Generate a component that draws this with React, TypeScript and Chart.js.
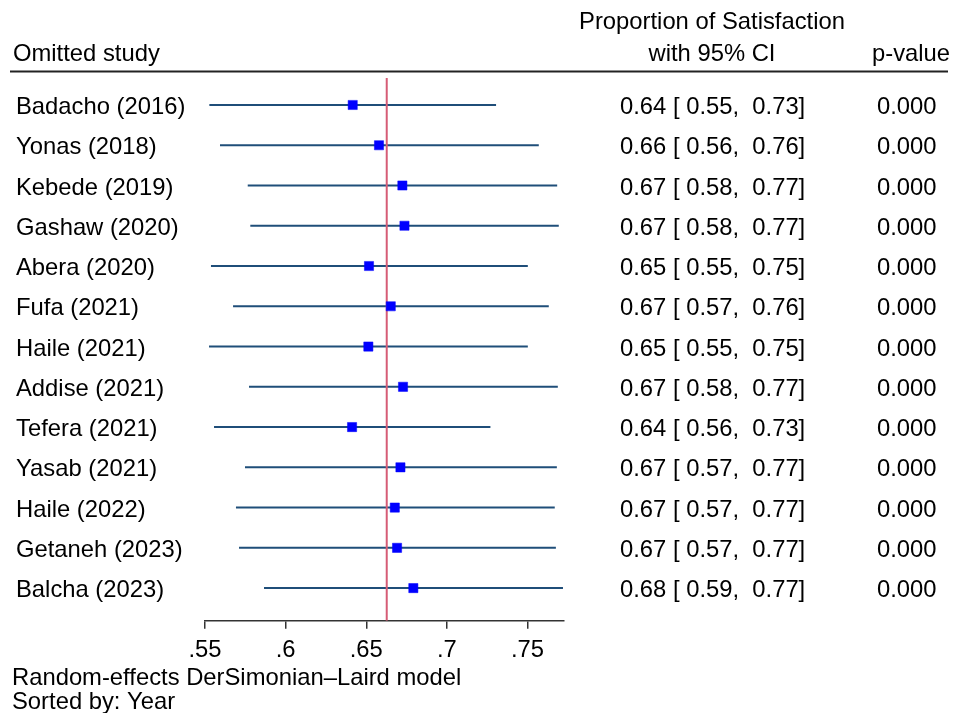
import React, { useEffect, useRef } from "react";
import { Chart, registerables } from "chart.js";

Chart.register(...registerables);

const studies = [
  "Badacho (2016)",
  "Yonas (2018)",
  "Kebede (2019)",
  "Gashaw (2020)",
  "Abera (2020)",
  "Fufa (2021)",
  "Haile (2021)",
  "Addise (2021)",
  "Tefera (2021)",
  "Yasab (2021)",
  "Haile (2022)",
  "Getaneh (2023)",
  "Balcha (2023)",
];
const estimates = [0.6416, 0.6579, 0.6724, 0.6737, 0.6517, 0.6652, 0.6513, 0.6728, 0.6412, 0.6712, 0.6677, 0.6691, 0.6792];
const lowerCI = [0.5527, 0.5593, 0.5765, 0.5781, 0.5537, 0.5674, 0.5525, 0.5773, 0.5556, 0.5748, 0.5692, 0.5711, 0.5866];
const upperCI = [0.7305, 0.757, 0.7684, 0.7694, 0.7502, 0.7632, 0.7502, 0.7688, 0.727, 0.7682, 0.7669, 0.7676, 0.772];
const ciLabels = [
  "0.64 [ 0.55,  0.73]",
  "0.66 [ 0.56,  0.76]",
  "0.67 [ 0.58,  0.77]",
  "0.67 [ 0.58,  0.77]",
  "0.65 [ 0.55,  0.75]",
  "0.67 [ 0.57,  0.76]",
  "0.65 [ 0.55,  0.75]",
  "0.67 [ 0.58,  0.77]",
  "0.64 [ 0.56,  0.73]",
  "0.67 [ 0.57,  0.77]",
  "0.67 [ 0.57,  0.77]",
  "0.67 [ 0.57,  0.77]",
  "0.68 [ 0.59,  0.77]",
];
const pValues = ["0.000", "0.000", "0.000", "0.000", "0.000", "0.000", "0.000", "0.000", "0.000", "0.000", "0.000", "0.000", "0.000"];
const overallEstimate = 0.6627;
const xTickValues = [0.55, 0.6, 0.65, 0.7, 0.75];
const xTickLabels = [".55", ".6", ".65", ".7", ".75"];
const headerLines = ["Proportion of Satisfaction", "with 95% CI"];
const footerLines = ["Random-effects DerSimonian\u2013Laird model", "Sorted by: Year"];

const FONT = '"Liberation Sans", Arial, sans-serif';
const FS = 23.8;
const TEXT_DY = 2.5;

export default function App() {
  const ref = useRef<HTMLCanvasElement | null>(null);

  useEffect(() => {
    if (!ref.current) return;
    const yMin = -0.67;
    const yMax = 12.81;

    const ciDatasets = studies.map((s, i) => ({
      type: "scatter" as const,
      label: s + " CI",
      data: [
        { x: lowerCI[i], y: i },
        { x: upperCI[i], y: i },
      ],
      showLine: true,
      borderColor: "#1f4e79",
      borderWidth: 2,
      pointRadius: 0,
      order: 3,
    }));

    const textPlugin = {
      id: "forestText",
      afterDraw(chart: any) {
        const ctx = chart.ctx as CanvasRenderingContext2D;
        const ys = chart.scales.y;
        ctx.save();
        ctx.fillStyle = "#000";
        ctx.font = `${FS}px ${FONT}`;
        ctx.textBaseline = "middle";
        // headers
        ctx.textAlign = "left";
        ctx.fillText("Omitted study", 13, 54.5);
        ctx.fillText("p-value", 872, 54.5);
        ctx.textAlign = "center";
        ctx.fillText(headerLines[0], 712, 22);
        ctx.fillText(headerLines[1], 712, 54.5);
        // rule
        ctx.strokeStyle = "#222";
        ctx.lineWidth = 2;
        ctx.beginPath();
        ctx.moveTo(10, 71.5);
        ctx.lineTo(948, 71.5);
        ctx.stroke();
        // rows
        ctx.textAlign = "left";
        studies.forEach((_, i) => {
          const y = ys.getPixelForValue(i) + TEXT_DY;
          ctx.fillText(ciLabels[i], 620, y);
          ctx.fillText(pValues[i], 877, y);
        });
        // footer
        ctx.fillText(footerLines[0], 12, 678.5);
        ctx.fillText(footerLines[1], 12, 702.5);
        ctx.restore();
      },
    };

    const chart = new Chart(ref.current, {
      type: "scatter",
      data: {
        datasets: [
          ...ciDatasets,
          {
            type: "scatter" as const,
            label: "Overall",
            data: [
              { x: overallEstimate, y: yMin },
              { x: overallEstimate, y: yMax },
            ],
            showLine: true,
            borderColor: "#d65c76",
            borderWidth: 2,
            pointRadius: 0,
            order: 2,
          },
          {
            type: "scatter" as const,
            label: "Estimate",
            data: estimates.map((e, i) => ({ x: e, y: i })),
            pointStyle: "rect",
            pointRadius: 6.5,
            backgroundColor: "#0000ff",
            borderColor: "#0000ff",
            borderWidth: 0.5,
            order: 1,
          },
        ] as any,
      },
      options: {
        animation: false,
        responsive: false,
        devicePixelRatio: 1,
        layout: { padding: { left: 16, right: 392.7, top: 78, bottom: 52.3 } },
        plugins: { legend: { display: false }, tooltip: { enabled: false }, title: { display: false } },
        scales: {
          x: {
            type: "linear",
            min: 0.55,
            max: 0.7722,
            afterBuildTicks: (scale: any) => {
              scale.ticks = xTickValues.map((v) => ({ value: v }));
            },
            afterFit: (scale: any) => {
              scale.height = 40;
            },
            grid: {
              display: true,
              drawOnChartArea: false,
              drawTicks: true,
              tickLength: 8,
              color: "#333",
              lineWidth: 1.5,
            },
            border: { display: true, color: "#333", width: 1.5 },
            ticks: {
              autoSkip: false,
              maxRotation: 0,
              padding: 7,
              color: "#000",
              font: { family: FONT, size: FS },
              callback: (v: any) => {
                const idx = xTickValues.findIndex((t) => Math.abs(t - Number(v)) < 1e-9);
                return idx >= 0 ? xTickLabels[idx] : "";
              },
            },
          },
          y: {
            type: "linear",
            reverse: true,
            min: yMin,
            max: yMax,
            position: "left",
            afterBuildTicks: (scale: any) => {
              scale.ticks = studies.map((_, i) => ({ value: i }));
            },
            afterFit: (scale: any) => {
              scale.width = 189;
            },
            grid: { display: false, drawTicks: false },
            border: { display: false },
            ticks: {
              autoSkip: false,
              crossAlign: "far",
              padding: 0,
              labelOffset: TEXT_DY,
              color: "#000",
              font: { family: FONT, size: FS },
              callback: (v: any) => studies[Math.round(Number(v))] ?? "",
            },
          },
        },
      } as any,
      plugins: [textPlugin],
    });
    return () => chart.destroy();
  }, []);

  return (
    <div style={{ position: "absolute", left: 0, top: 0, width: 956, height: 713, background: "#fff" }}>
      <canvas ref={ref} width={956} height={713} style={{ width: 956, height: 713, display: "block" }} />
    </div>
  );
}
